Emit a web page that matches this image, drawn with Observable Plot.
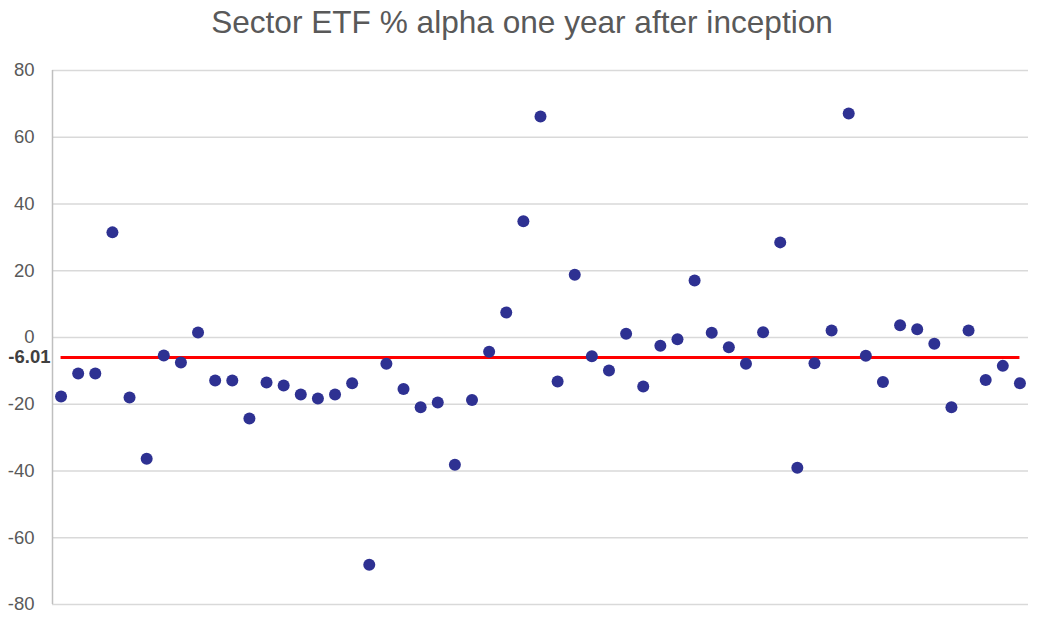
<!DOCTYPE html>
<html>
<head>
<meta charset="utf-8">
<script src="https://cdn.jsdelivr.net/npm/d3@7"></script>
<script src="https://cdn.jsdelivr.net/npm/@observablehq/plot@0.6"></script>
<style>
  body { margin: 0; background: #fff; font-family: "Liberation Sans", Arial, sans-serif; }
  #title { height: 50px; width: 1042px; text-align: center; font-size: 31.6px; color: #595959; line-height: 45px; padding-left: 2px; box-sizing: border-box; white-space: nowrap; }
</style>
</head>
<body>
<div id="title">Sector ETF % alpha one year after inception</div>
<div id="chart"></div>
<script>
const etfIndex = d3.range(1, 58);
const alphaValues = [
  -17.7, -10.8, -10.8, 31.5, -18.0, -36.3, -5.4, -7.5, 1.5, -12.9,
  -12.9, -24.3, -13.5, -14.4, -17.1, -18.3, -17.1, -13.7, -68.1, -7.9,
  -15.4, -20.9, -19.5, -38.1, -18.7, -4.3, 7.5, 34.8, 66.2, -13.2,
  18.8, -5.6, -9.9, 1.1, -14.7, -2.5, -0.5, 17.1, 1.4, -2.9,
  -7.9, 1.6, 28.5, -39.0, -7.7, 2.1, 67.1, -5.5, -13.3, 3.7,
  2.5, -1.9, -20.9, 2.1, -12.7, -8.5, -13.7
];
const meanAlpha = -6.01;
const yTicks = [-80, -60, -40, -20, 0, 20, 40, 60, 80];

const data = etfIndex.map((i, k) => ({ i, v: alphaValues[k] }));

const chart = Plot.plot({
  width: 1042,
  height: 571,
  marginTop: 20,
  marginBottom: 17,
  marginLeft: 52,
  marginRight: 14,
  style: { fontFamily: "'Liberation Sans', Arial, sans-serif", fontSize: "18.5px", color: "#595959", background: "#fff" },
  x: { domain: [0.5, 57.5], axis: null },
  y: { domain: [-80, 80], ticks: yTicks, tickSize: 0, tickPadding: 18, label: null, tickFormat: d => String(d) },
  marks: [
    Plot.ruleY(yTicks, { stroke: "#d9d9d9", strokeWidth: 1.5, strokeOpacity: 1 }),
    Plot.ruleX([0.5], { y1: -80, y2: 80, stroke: "#bfbfbf", strokeWidth: 1.5 }),
    Plot.ruleY([meanAlpha], { x1: 1, x2: 57, stroke: "#ff0000", strokeWidth: 3 }),
    Plot.dot(data, { x: "i", y: "v", r: 6, fill: "#2e3192", stroke: "none" }),
    Plot.text([meanAlpha], { x: 0.5, y: d => d, text: d => d.toFixed(2), textAnchor: "end", dx: -2, fontWeight: "bold", fill: "#404040", fontSize: 18.5 })
  ]
});
document.getElementById("chart").appendChild(chart);
</script>
</body>
</html>
